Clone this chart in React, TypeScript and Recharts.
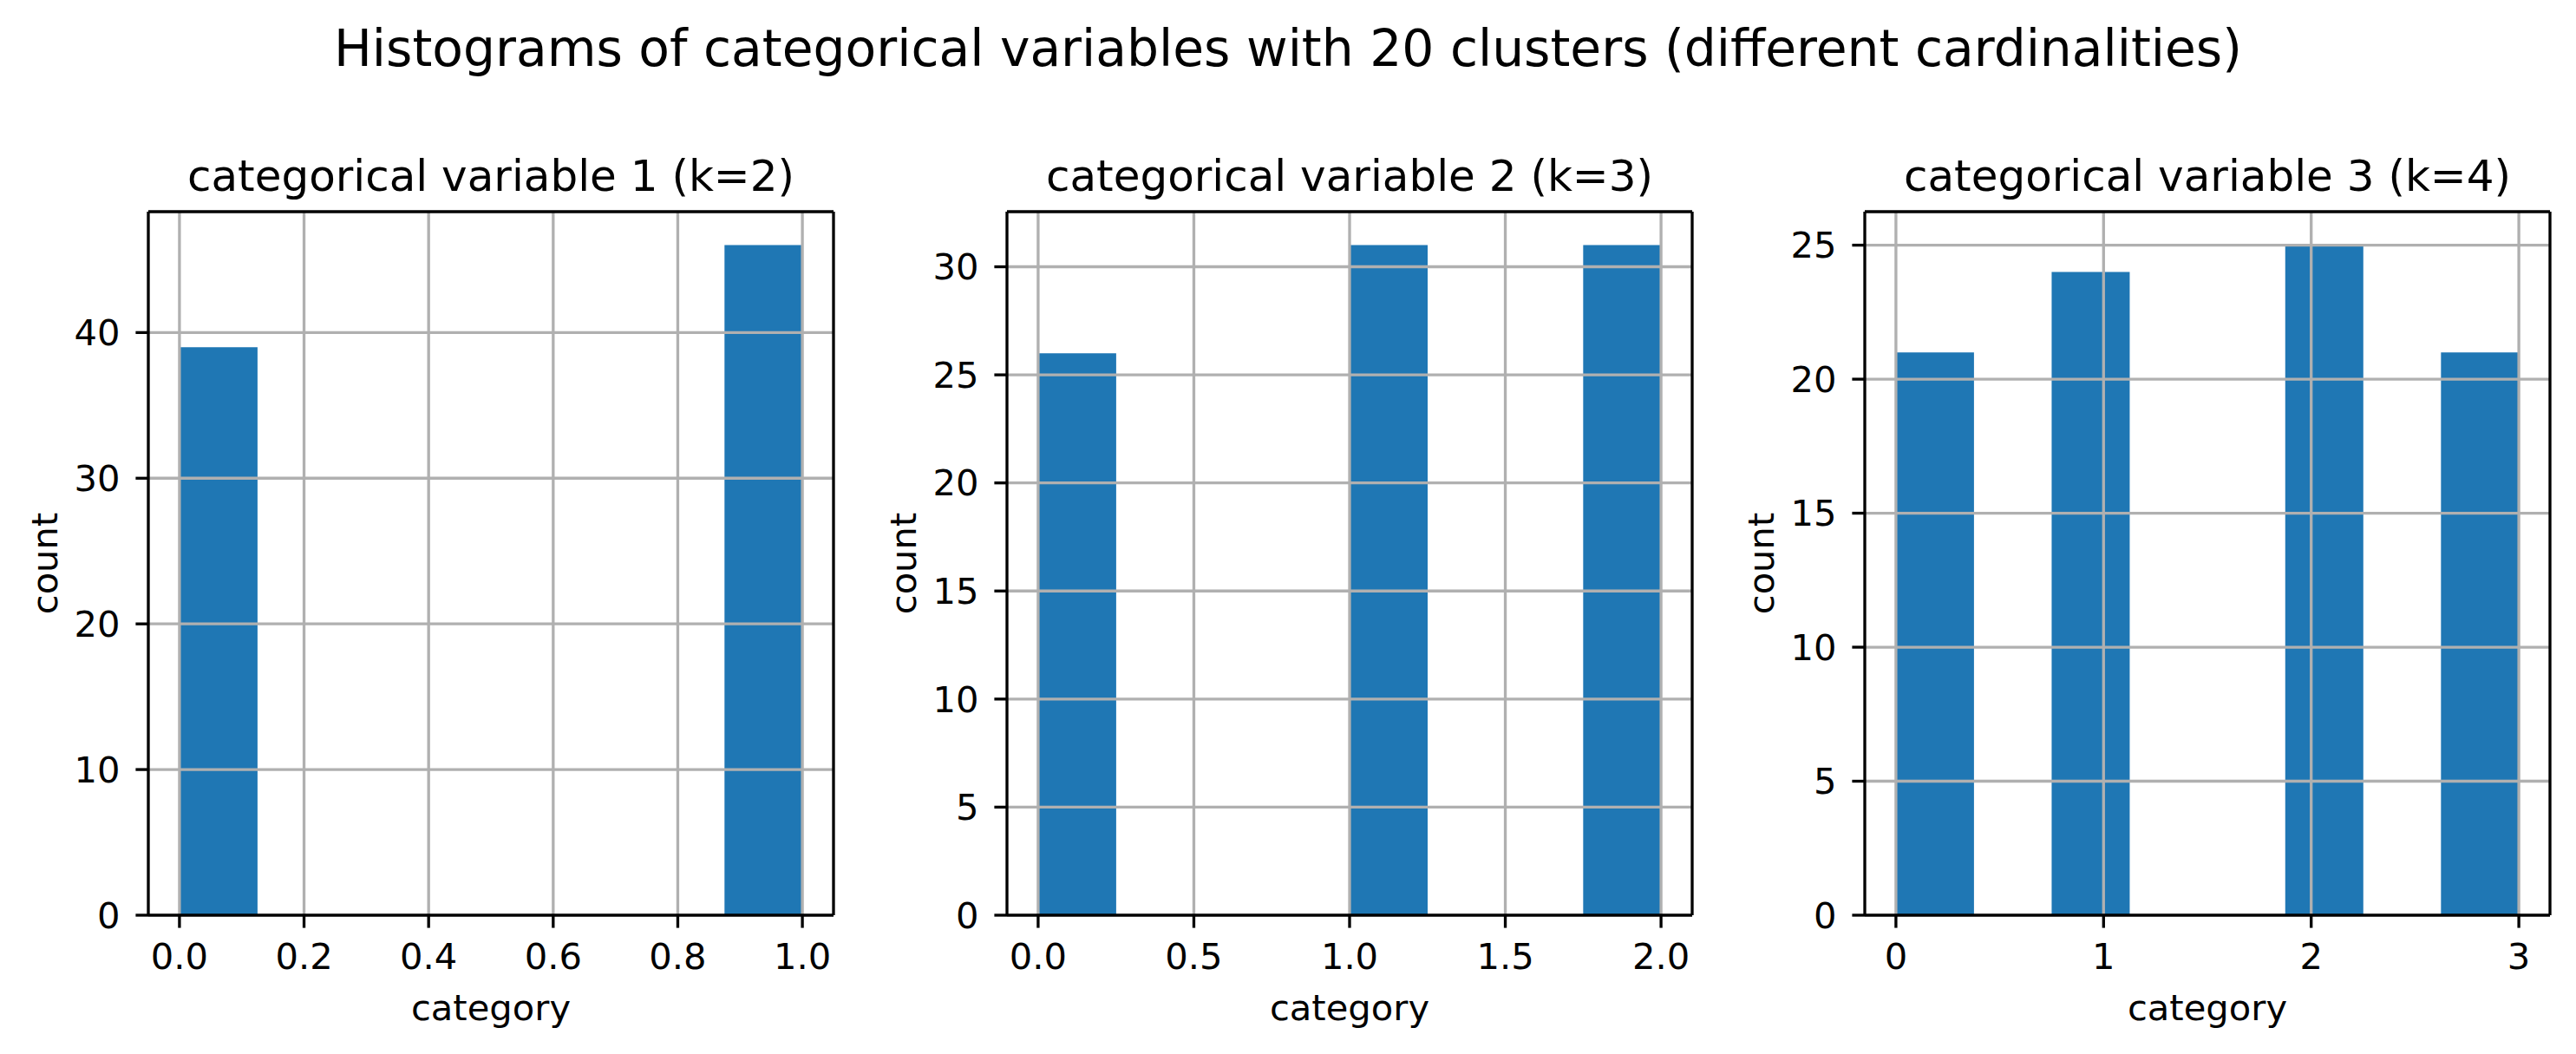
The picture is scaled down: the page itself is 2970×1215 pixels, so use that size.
import React from "react";
import { Bar, BarChart, Label, ReferenceLine, XAxis, YAxis } from "recharts";

const FONT = "DejaVu Sans, sans-serif";
const BLUE = "#1f77b4";
const GRID = "#b0b0b0";
const LW = 3.33;

const suptitle = "Histograms of categorical variables with 20 clusters (different cardinalities)";
const panelTitles = [
  "categorical variable 1 (k=2)",
  "categorical variable 2 (k=3)",
  "categorical variable 3 (k=4)",
];

// 8 bins per histogram
const var1Edges = [0, 0.125, 0.25, 0.375, 0.5, 0.625, 0.75, 0.875, 1.0];
const var1Counts = [39, 0, 0, 0, 0, 0, 0, 46];
const var2Edges = [0, 0.25, 0.5, 0.75, 1.0, 1.25, 1.5, 1.75, 2.0];
const var2Counts = [26, 0, 0, 0, 31, 0, 0, 31];
const var3Edges = [0, 0.375, 0.75, 1.125, 1.5, 1.875, 2.25, 2.625, 3.0];
const var3Counts = [21, 0, 24, 0, 0, 25, 0, 21];

const var1XTicks = [0, 0.2, 0.4, 0.6, 0.8, 1.0];
const var1XLabels = ["0.0", "0.2", "0.4", "0.6", "0.8", "1.0"];
const var2XTicks = [0, 0.5, 1.0, 1.5, 2.0];
const var2XLabels = ["0.0", "0.5", "1.0", "1.5", "2.0"];
const var3XTicks = [0, 1, 2, 3];
const var3XLabels = ["0", "1", "2", "3"];

const var1YTicks = [0, 10, 20, 30, 40];
const var2YTicks = [0, 5, 10, 15, 20, 25, 30];
const var3YTicks = [0, 5, 10, 15, 20, 25];

function binRows(edges: number[], counts: number[]) {
  return counts.map((count, i) => ({ mid: (edges[i] + edges[i + 1]) / 2, count }));
}

function CountLabel(props: any) {
  const vb = props.viewBox || {};
  const x = (vb.x ?? 0) + (vb.width ?? 0) - 105.5;
  const y = (vb.y ?? 0) + (vb.height ?? 0) / 2;
  return (
    <text
      x={x}
      y={y}
      transform={`rotate(-90, ${x}, ${y})`}
      textAnchor="middle"
      fontSize={41.67}
      fontFamily={FONT}
      fill="#000"
    >
      count
    </text>
  );
}

type PanelProps = {
  title: string;
  edges: number[];
  counts: number[];
  xTicks: number[];
  xLabels: string[];
  yTicks: number[];
  left: number;
};

function HistPanel({ title, edges, counts, xTicks, xLabels, yTicks, left }: PanelProps) {
  const rows = binRows(edges, counts);
  const lo = edges[0];
  const hi = edges[edges.length - 1];
  const pad = (hi - lo) * 0.05;
  const xDomain = [lo - pad, hi + pad];
  const yMax = Math.max(...counts) * 1.05;
  const tickStyle = { fill: "#000", fontSize: 41.67, fontFamily: FONT };

  return (
    <div style={{ position: "absolute", left, top: 0 }}>
      <BarChart
        width={990}
        height={1215}
        data={rows}
        margin={{ top: 244, right: 29, bottom: 30, left: 31 }}
        barCategoryGap={0}
        barGap={0}
      >
        <Bar dataKey="count" fill={BLUE} isAnimationActive={false} />
        {xTicks.map((v) => (
          <ReferenceLine key={"gx" + v} x={v} stroke={GRID} strokeWidth={LW} />
        ))}
        {yTicks
          .filter((v) => v !== 0)
          .map((v) => (
            <ReferenceLine key={"gy" + v} y={v} stroke={GRID} strokeWidth={LW} />
          ))}
        <ReferenceLine x={xDomain[1]} stroke="#000" strokeWidth={LW} />
        <ReferenceLine y={yMax} stroke="#000" strokeWidth={LW}>
          <Label value={title} position="top" offset={24} fill="#000" fontSize={50} fontFamily={FONT} />
        </ReferenceLine>
        <XAxis
          type="number"
          dataKey="mid"
          domain={xDomain}
          ticks={xTicks}
          interval={0}
          tickFormatter={(v: number) => xLabels[xTicks.indexOf(v)]}
          height={130}
          tickSize={14.6}
          tickMargin={18}
          tick={tickStyle}
          axisLine={{ stroke: "#000", strokeWidth: LW }}
          tickLine={{ stroke: "#000", strokeWidth: LW }}
        >
          <Label value="category" position="insideBottom" offset={9} fill="#000" fontSize={41.67} fontFamily={FONT} />
        </XAxis>
        <YAxis
          type="number"
          domain={[0, yMax]}
          ticks={yTicks}
          interval={0}
          width={140}
          tickSize={14.6}
          tickMargin={18}
          tick={tickStyle}
          axisLine={{ stroke: "#000", strokeWidth: LW }}
          tickLine={{ stroke: "#000", strokeWidth: LW }}
          label={<CountLabel />}
        />
      </BarChart>
    </div>
  );
}

export default function App() {
  return (
    <div style={{ position: "relative", width: 2970, height: 1215, background: "#fff", fontFamily: FONT }}>
      <style>{"body{margin:0}"}</style>
      <svg width={2970} height={120} style={{ position: "absolute", left: 0, top: 0 }}>
        <text x={1485} y={76} textAnchor="middle" fontSize={58.3} fontFamily={FONT} fill="#000">
          {suptitle}
        </text>
      </svg>
      <HistPanel
        title={panelTitles[0]}
        edges={var1Edges}
        counts={var1Counts}
        xTicks={var1XTicks}
        xLabels={var1XLabels}
        yTicks={var1YTicks}
        left={0}
      />
      <HistPanel
        title={panelTitles[1]}
        edges={var2Edges}
        counts={var2Counts}
        xTicks={var2XTicks}
        xLabels={var2XLabels}
        yTicks={var2YTicks}
        left={990}
      />
      <HistPanel
        title={panelTitles[2]}
        edges={var3Edges}
        counts={var3Counts}
        xTicks={var3XTicks}
        xLabels={var3XLabels}
        yTicks={var3YTicks}
        left={1979}
      />
    </div>
  );
}
